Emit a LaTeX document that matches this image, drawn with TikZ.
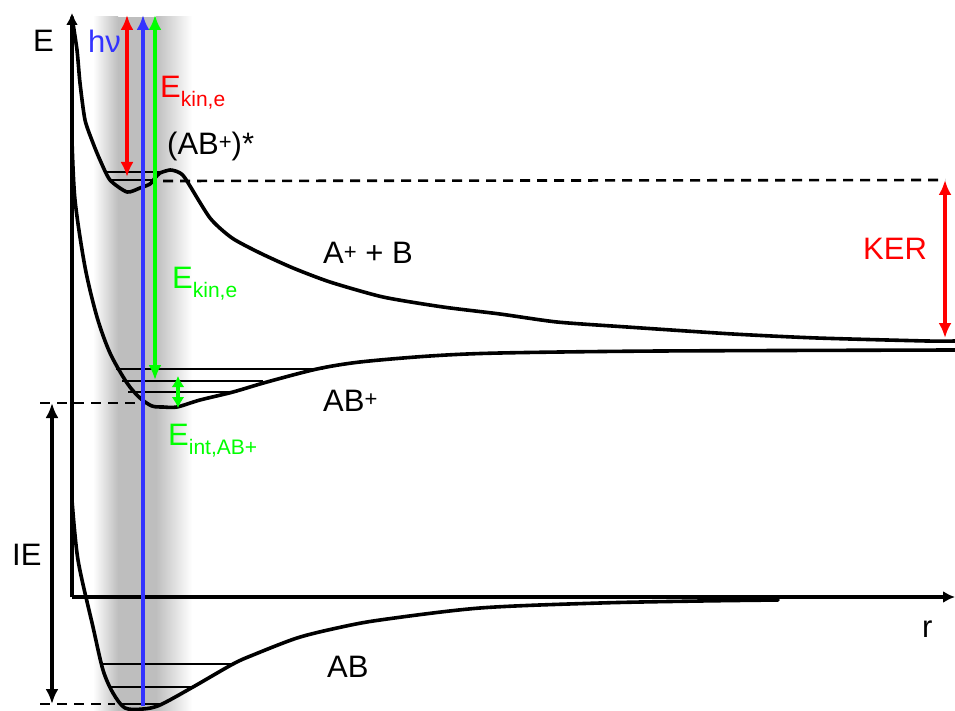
\documentclass[tikz,border=0pt]{standalone}
\usepackage{fontspec}
\setmainfont{Liberation Sans}
\usetikzlibrary{arrows.meta}
\definecolor{pesred}{RGB}{255, 0, 0}
\definecolor{pesblue}{RGB}{51, 51, 255}
\definecolor{pesgreen}{RGB}{0, 255, 0}
\definecolor{pesgray}{RGB}{190, 190, 190}
\newcommand{\lsub}[1]{\raisebox{-9pt}{\fontsize{21}{21}\selectfont #1}}
\newcommand{\lsup}[1]{\raisebox{5pt}{\fontsize{22}{22}\selectfont #1}}

\begin{document}
\begin{tikzpicture}[x=1pt, y=-1pt, font=\fontsize{31}{36}\selectfont,
    curve/.style={line width=3.6pt, line join=round, line cap=round},
    level/.style={line width=2.6pt},
    guide/.style={line width=2.6pt, dash pattern=on 10pt off 7pt},
    label/.style={anchor=base west, inner sep=0pt},
    eArrow/.style={line width=3.6pt, {Latex[length=15pt, width=13pt]}-{Latex[length=15pt, width=13pt]}},
    axis/.style={line width=3.6pt, -{Latex[length=12pt, width=12pt]}}]
\useasboundingbox (0,0) rectangle (955,711);

% Lichtband
\shade[left color=white, right color=pesgray] (93,17) rectangle (118,711);
\fill[pesgray] (118,17) rectangle (156,711);
\shade[left color=pesgray, right color=white] (156,17) rectangle (192,711);

% Achsen
\coordinate (origin) at (72,597);
\coordinate (etop) at (72,13);
\coordinate (rend) at (955,597);
\draw[axis] (origin) -- (etop);
\draw[axis] (origin) -- (rend);
\node[label] (elabel) at (33,52) {E};
\node[label] (rlabel) at (922,637) {r};

% Potentialkurve AB
\draw[curve] plot[smooth, tension=0.5] coordinates {(72,500) (78,560) (93,627) (103,670) (113,693) (125,708) (143,709) (160,705) (193,687) (233,664) (253,655) (297,638) (337,628) (380,620) (480,608) (600,603) (700,601) (778,600)};
\draw[level] (100,664) -- (233,664);
\draw[level] (108,687) -- (193,687);
\draw[level] (120,704) -- (163,704);

% Potentialkurve AB+
\draw[curve] plot[smooth, tension=0.5] coordinates {(72,140) (75,200) (85,267) (97,317) (110,353) (127,383) (140,398) (152,406) (163,407) (177,407) (200,400) (233,392) (267,382) (317,369) (360,362) (430,356) (500,353) (660,351) (955,350)};
\draw[level] (116,369) -- (323,369);
\draw[level] (122,381) -- (263,381);
\draw[level] (128,392) -- (232,392);

% Potentialkurve (AB+)* -> A+ + B
\draw[curve] plot[smooth, tension=0.4] coordinates {(72,17) (77,50) (80,83) (85,120) (93,143) (100,160) (110,180) (127,192) (140,188) (150,184) (155,178) (160,173) (170,170) (178,172) (185,178) (210,218) (232,238) (260,253) (293,268) (330,282) (383,297) (443,307) (500,314) (557,322) (627,327) (733,334) (817,338) (927,341) (955,341)};
\draw[level] (107,172) -- (165,172);
\draw[level] (112,180) -- (152,180);

% Hilfslinien
\coordinate (kertop) at (945,180);
\coordinate (kerbot) at (945,338);
\coordinate (ietop) at (52,403);
\coordinate (iebot) at (52,704);
\draw[guide] (163,181) -- (kertop);
\draw[guide] (40,403) -- (143,403);
\draw[guide] (40,704) -- (115,704);

% Energiepfeile
\coordinate (hvbot) at (143,706);
\coordinate (hvtop) at (143,15);
\coordinate (redtop) at (127,15);
\coordinate (redbot) at (127,177);
\coordinate (greentop) at (155,15);
\coordinate (greenbot) at (155,380);
\coordinate (inttop) at (178,376);
\coordinate (intbot) at (178,408);
\draw[pesblue, line width=3.6pt, -{Latex[length=15pt, width=13pt]}] (hvbot) -- (hvtop);
\draw[pesred, eArrow] (redbot) -- (redtop);
\draw[pesgreen, eArrow] (greenbot) -- (greentop);
\draw[pesgreen, line width=3.6pt, {Latex[length=11pt, width=13pt]}-{Latex[length=11pt, width=13pt]}] (intbot) -- (inttop);
\draw[pesred, eArrow] (kerbot) -- (kertop);
\draw[eArrow] (iebot) -- (ietop);

% Beschriftungen
\node[label, pesblue] (hv) at (88,53) {hν};
\node[label, pesred] (ekinred) at (160,98) {E\lsub{kin,e}};
\node[label] (abstar) at (167,155) {(AB\lsup{+})*};
\node[label, pesgreen] (ekingreen) at (172,288) {E\lsub{kin,e}};
\node[label] (apb) at (323,264) {A\lsup{+} + B};
\node[label] (abplus) at (323,411) {AB\lsup{+}};
\node[label, pesgreen] (eint) at (168,445) {E\lsub{int,AB+}};
\node[label] (ab) at (327,677) {AB};
\node[label, pesred] (ker) at (863,259) {KER};
\node[label] (ie) at (12,565) {IE};

\end{tikzpicture}
\end{document}
